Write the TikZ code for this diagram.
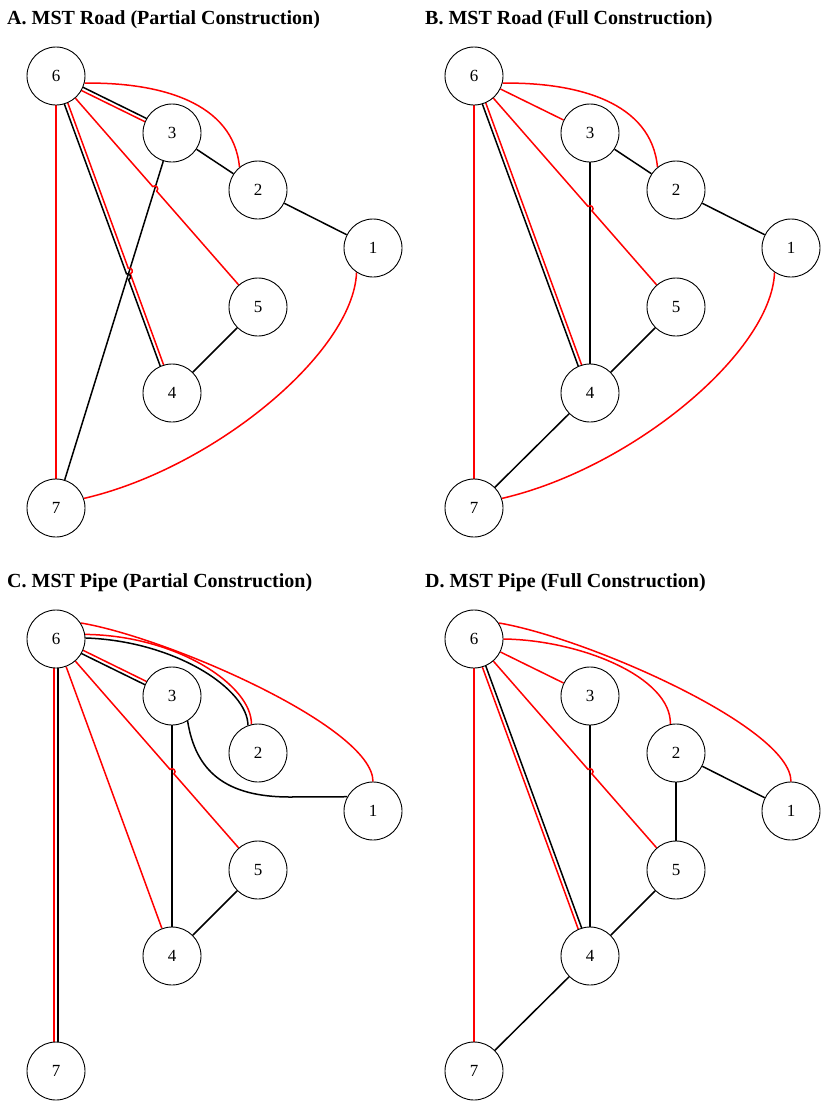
\documentclass[tikz,border=0pt]{standalone}
\usepackage{fontspec}
\setmainfont{Liberation Serif}
\usetikzlibrary{calc}
\pgfdeclarelayer{bg}
\pgfsetlayers{bg,main}
\tikzset{
  vtx/.style={circle,draw,line width=0.9pt,fill=white,minimum size=58pt,inner sep=0pt,font=\fontsize{17}{19}\selectfont},
  bk/.style={draw=black,line width=1.5pt},
  rd/.style={draw=red,line width=1.5pt},
  ttl/.style={anchor=base west,font=\bfseries\fontsize{20}{24}\selectfont,inner sep=0pt},
}
\newcommand{\mknodes}[1]{%
  \node[vtx] (#16) at (56,76) {6};
  \node[vtx] (#13) at (172,133) {3};
  \node[vtx] (#12) at (258,190) {2};
  \node[vtx] (#11) at (373,248) {1};
  \node[vtx] (#15) at (258,307) {5};
  \node[vtx] (#14) at (172,393) {4};
  \node[vtx] (#17) at (56,508) {7};
}
% #1 style, #2 from, #3 to, #4--#5 line crossed
\newcommand{\hopline}[5]{%
  \coordinate (hh) at (intersection of #2--#3 and #4--#5);
  \coordinate (hp1) at ($(hh)!3pt!(#2)$);
  \coordinate (hp2) at ($(hh)!3pt!(#3)$);
  \path[#1] (#2) -- (hp1) .. controls ($(hp1)!4pt!90:(hh)$) and ($(hp2)!4pt!-90:(hh)$) .. (hp2) -- (#3);
}
% #1 style on left (+90), #2 style on right (-90), #3 from, #4 to
\newcommand{\pairline}[4]{%
  \coordinate (pl1) at ($(#3)!1.8pt!90:(#4)$);
  \coordinate (pl2) at ($(#4)!1.8pt!-90:(#3)$);
  \coordinate (pr1) at ($(#3)!1.8pt!-90:(#4)$);
  \coordinate (pr2) at ($(#4)!1.8pt!90:(#3)$);
  \path[#1] (pl1) -- (pl2);
  \path[#2] (pr1) -- (pr2);
}
\begin{document}
\begin{tikzpicture}[x=1pt,y=-1pt]
\useasboundingbox (0,0) rectangle (823,1101);
\node[ttl] (tA) at (7,24) {A. MST Road (Partial Construction)};
\node[ttl] (tB) at (425,24) {B. MST Road (Full Construction)};
\node[ttl] (tC) at (7,587) {C. MST Pipe (Partial Construction)};
\node[ttl] (tD) at (425,587) {D. MST Pipe (Full Construction)};

% ---------- Panel A ----------
\begin{scope}
\mknodes{A}
\begin{pgfonlayer}{bg}
  \draw[bk] (A3) -- (A2);
  \draw[bk] (A2) -- (A1);
  \draw[bk] (A5) -- (A4);
  \draw[bk] (A3) -- (A7);
  \pairline{bk}{rd}{A6}{A3}
  \coordinate (q1) at ($(A6)!1.8pt!90:(A4)$);
  \coordinate (q2) at ($(A4)!1.8pt!-90:(A6)$);
  \hopline{rd}{q1}{q2}{A3.center}{A7.center}
  \coordinate (q3) at ($(A6)!1.8pt!-90:(A4)$);
  \coordinate (q4) at ($(A4)!1.8pt!90:(A6)$);
  \hopline{bk}{q3}{q4}{A3.center}{A7.center}
  \hopline{rd}{A6.center}{A5.center}{A3.center}{A7.center}
  \draw[rd] (A6) -- (A7);
  \path[rd] (A6.-14) .. controls +(75,-1) and +(-6,-65) .. (A2.129);
  \path[rd] (A1.-124) .. controls +(-3,80) and +(130,-30) .. (A7.19);
\end{pgfonlayer}
\end{scope}

% ---------- Panel B ----------
\begin{scope}[shift={(418,0)}]
\mknodes{B}
\begin{pgfonlayer}{bg}
  \draw[bk] (B3) -- (B2);
  \draw[bk] (B2) -- (B1);
  \draw[bk] (B5) -- (B4);
  \draw[bk] (B4) -- (B7);
  \draw[bk] (B3) -- (B4);
  \draw[rd] (B6) -- (B3);
  \draw[rd] (B6) -- (B7);
  \pairline{rd}{bk}{B6}{B4}
  \hopline{rd}{B6.center}{B5.center}{B3.center}{B4.center}
  \path[rd] (B6.-14) .. controls +(75,-1) and +(-6,-65) .. (B2.129);
  \path[rd] (B1.-124) .. controls +(-3,80) and +(130,-30) .. (B7.19);
\end{pgfonlayer}
\end{scope}

% ---------- Panel C ----------
\begin{scope}[shift={(0,563)}]
\mknodes{C}
\coordinate (Ck) at (290,234);
\begin{pgfonlayer}{bg}
  \draw[bk] (C3) -- (C4);
  \draw[bk] (C5) -- (C4);
  \pairline{rd}{bk}{C6}{C3}
  \pairline{bk}{rd}{C6}{C7}
  \draw[rd] (C6) -- (C4);
  \hopline{rd}{C6.center}{C5.center}{C3.center}{C4.center}
  \path[bk] (C6.2) .. controls +(90,3) and +(0,-36) .. (C2.110);
  \path[rd] (C6.9) .. controls +(93,1) and +(1,-38) .. (C2.103);
  \path[rd] (C6.33) .. controls +(85,14) and +(0,-55) .. (C1.90);
  \path[bk] (C3.-58) .. controls +(8,50) and +(-65,0) .. (Ck) -- (C1.151);
\end{pgfonlayer}
\end{scope}

% ---------- Panel D ----------
\begin{scope}[shift={(418,563)}]
\mknodes{D}
\begin{pgfonlayer}{bg}
  \draw[bk] (D3) -- (D4);
  \draw[bk] (D2) -- (D1);
  \draw[bk] (D2) -- (D5);
  \draw[bk] (D5) -- (D4);
  \draw[bk] (D4) -- (D7);
  \draw[rd] (D6) -- (D3);
  \draw[rd] (D6) -- (D7);
  \pairline{bk}{rd}{D6}{D4}
  \hopline{rd}{D6.center}{D5.center}{D3.center}{D4.center}
  \path[rd] (D6.0) .. controls +(77,1) and +(1,-47) .. (D2.101);
  \path[rd] (D6.33) .. controls +(85,14) and +(0,-55) .. (D1.90);
\end{pgfonlayer}
\end{scope}
\end{tikzpicture}
\end{document}
